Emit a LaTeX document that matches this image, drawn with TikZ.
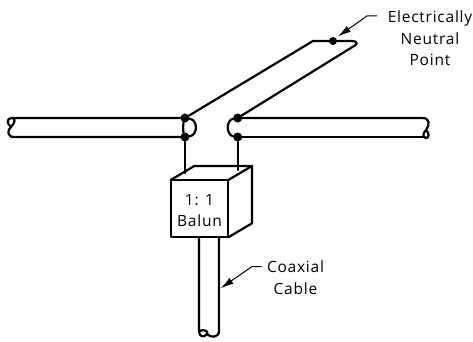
\documentclass[tikz,border=0pt]{standalone}
\usepackage{fontspec}
\setmainfont{Open Sans}
\usepackage{xcolor}
\usepackage{tikz}
\usetikzlibrary{arrows.meta}

\begin{document}
\begin{tikzpicture}[
  x=1pt, y=-1pt,
  wire/.style={line width=2.2pt, line join=round, line cap=round},
  joint/.style={circle, fill=black, inner sep=0pt, minimum size=9pt},
  label/.style={align=center, font=\fontsize{15.5pt}{21.5pt}\selectfont\addfontfeature{LetterSpace=5}, inner sep=0pt},
  arrow/.style={line width=1pt, -{Latex[length=13pt, width=7pt]}}
]
\useasboundingbox (0,0) rectangle (473,342);

\node[joint] (lefttop) at (185,118) {};
\node[joint] (leftbot) at (185,137) {};
\node[joint] (righttop) at (237.7,118) {};
\node[joint] (rightbot) at (237.7,137) {};
\node[joint, minimum size=8pt] (neutral) at (333,41) {};

\coordinate (bendtop) at (313,41);
\coordinate (bendcnr) at (351,41);
\coordinate (boxa) at (170.7,180);
\coordinate (boxb) at (228.3,180);
\coordinate (boxc) at (228.3,237.3);
\coordinate (boxd) at (170.7,237.3);
\coordinate (boxe) at (194.3,166);
\coordinate (boxf) at (252,166);
\coordinate (boxg) at (252,223.3);
\coordinate (wirel) at (185,173);
\coordinate (wirer) at (237.7,170);
\coordinate (neutraltail) at (377,16);
\coordinate (neutralknee) at (367,16);
\coordinate (neutraltip) at (338,36.5);
\coordinate (coaxtail) at (261.7,266.7);
\coordinate (coaxknee) at (251.7,266.7);
\coordinate (coaxtip) at (220.7,288.3);

\node[label] (neutraltext) at (430,38.5) {Electrically\\Neutral\\Point};
\node[label] (baluntext) at (199.5,210.5) {1: 1\\Balun};
\node[label] (coaxtext) at (295.5,277.5) {Coaxial\\Cable};

\draw[wire] (lefttop) -- (12,118) .. controls (6,118) and (7,124) .. (11,127)
  .. controls (15,123) and (16,118) .. (12,118);
\draw[wire] (11,127) .. controls (7,130) and (7,137) .. (14,137) -- (leftbot);
\draw[wire] (righttop) -- (422,118) .. controls (430,118) and (430,124) .. (426,130)
  .. controls (422,134) and (423,138) .. (426,138) .. controls (429,138) and (430,134) .. (426,130);
\draw[wire] (rightbot) -- (425,137);

\draw[wire] (lefttop) -- (bendtop) -- (bendcnr) .. controls (358,41) and (358,44) .. (354,46) -- (righttop);
\draw[wire] (lefttop) .. controls (198,120) and (198,135) .. (leftbot);
\draw[wire] (lefttop) .. controls (183,124) and (183,131) .. (leftbot);
\draw[wire] (righttop) .. controls (226,120) and (226,135) .. (rightbot);
\draw[wire] (leftbot) -- (wirel);
\draw[wire] (rightbot) -- (wirer);

\draw[wire] (boxa) -- (boxb) -- (boxc) -- (boxd) -- cycle;
\draw[wire] (boxa) -- (boxe) -- (boxf) -- (boxb);
\draw[wire] (boxf) -- (boxg) -- (boxc);

\draw[wire] (199,237.3) -- (199,331) .. controls (199,337) and (204,338) .. (207,334)
  .. controls (209,331) and (204,329) .. (199,331);
\draw[wire] (207,334) .. controls (210,338) and (219,338) .. (219,331) -- (219,237.3);

\draw[arrow] (neutraltail) -- (neutralknee) -- (neutraltip);
\draw[arrow] (coaxtail) -- (coaxknee) -- (coaxtip);
\end{tikzpicture}
\end{document}
